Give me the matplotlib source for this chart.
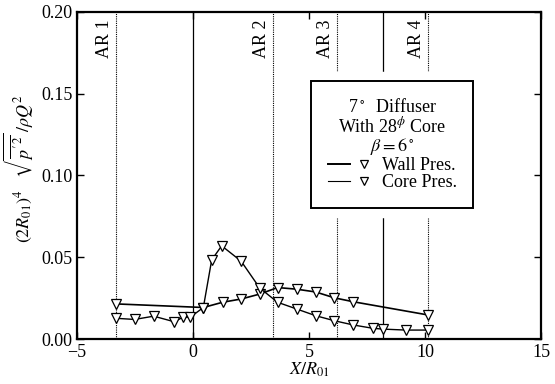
import numpy as np
import matplotlib
matplotlib.use("Agg")
import matplotlib.pyplot as plt
from matplotlib.lines import Line2D
from matplotlib.legend_handler import HandlerTuple
import matplotlib.patheffects as pe

plt.rcParams['font.family'] = 'serif'
plt.rcParams['font.serif'] = ['Liberation Serif', 'DejaVu Serif']
plt.rcParams['mathtext.fontset'] = 'stix'

# wall pressure fluctuation
wall_x = [-3.33, 0.44, 1.27, 2.07, 2.87, 3.64, 4.46, 5.28, 6.09, 6.91, 10.14]
wall_y = [0.0215, 0.0193, 0.0225, 0.0245, 0.0275, 0.0315, 0.0305, 0.0288,
          0.0252, 0.0228, 0.0147]

# core surface pressure fluctuation
core_x = [-3.33, -2.52, -1.70, -0.82, -0.44, -0.13, 0.44, 0.80, 1.23, 2.07,
          2.87, 3.64, 4.46, 5.28, 6.09, 6.91, 7.74, 8.17, 9.17, 10.14]
core_y = [0.0127, 0.0120, 0.0140, 0.0106, 0.0133, 0.0133, 0.0193, 0.0484,
          0.0570, 0.0476, 0.0312, 0.0225, 0.0184, 0.0143, 0.0112, 0.0086,
          0.0066, 0.0061, 0.0055, 0.0055]

# area-ratio stations and section boundaries
ar_x = [-3.33, 3.43, 6.18, 10.13]
ar_names = ["AR 1", "AR 2", "AR 3", "AR 4"]
edge_x = [0.0, 8.2]

fig = plt.figure(figsize=(5.55, 3.84), dpi=100)
ax = fig.add_axes([0.139, 0.117, 0.836, 0.852])

for x in ar_x:
    ax.axvline(x, color="black", lw=0.8, ls=(0, (1, 1)), zorder=1)
for x in edge_x:
    ax.axvline(x, color="black", lw=0.9, zorder=1)
for x, name in zip(ar_x, ar_names):
    ax.annotate(name, xy=(x, 0.978), xycoords=ax.get_xaxis_transform(),
                xytext=(-2, 0), textcoords="offset points",
                rotation=90, ha="right", va="top", fontsize=13)

mk = dict(marker="v", markersize=7.5, markerfacecolor="white",
          markeredgecolor="black", markeredgewidth=0.9)
ax.plot(wall_x, wall_y, color="black", lw=1.2, zorder=3, **mk)
ax.plot(core_x, core_y, color="black", lw=1.0, zorder=3, **mk)

mk_leg = dict(mk, markersize=6)
h_wall = (Line2D([], [], color="black", lw=1.4), Line2D([], [], ls="none", **mk_leg))
h_core = (Line2D([], [], color="black", lw=0.8), Line2D([], [], ls="none", **mk_leg))
leg = ax.legend([h_wall, h_core], ["Wall Pres.", "Core Pres."],
                handler_map={tuple: HandlerTuple(ndivide=None, pad=0.2)},
                title="7$^\\circ$  Diffuser\nWith 28$^\\phi$ Core\n$\\beta=6^\\circ$",
                title_fontsize=13, fontsize=13, handlelength=2.6,
                handletextpad=0.4, labelspacing=0.0, borderpad=0.95,
                loc="upper left", bbox_to_anchor=(0.504, 0.40, 0.35, 0.389),
                mode="expand", borderaxespad=0,
                fancybox=False, framealpha=1, edgecolor="black")
leg.get_frame().set_linewidth(1.4)
leg.get_frame().set_path_effects([pe.withStroke(linewidth=14, foreground="white")])
leg.get_title().set_multialignment("center")
leg.get_title().set_linespacing(1.0)

ax.set_xlim(-5, 15)
ax.set_ylim(0, 0.2)
ax.set_xticks([-5, 0, 5, 10, 15])
ax.set_yticks([0, 0.05, 0.10, 0.15, 0.20])
ax.yaxis.set_major_formatter(matplotlib.ticker.FormatStrFormatter("%.2f"))
ax.tick_params(direction="in", length=5, width=1, top=True, right=True,
               labelsize=13)
for s in ax.spines.values():
    s.set_linewidth(1.6)

ax.set_xlabel("$X/R_{01}$", fontsize=13, labelpad=0)
ax.set_ylabel("$(2R_{01})^4\\quad \\sqrt{\\overline{p^{\\prime\\, 2}}}\\,/\\rho Q^2$",
              fontsize=13)
ax.yaxis.set_label_coords(-0.088, 0.52)

fig.savefig("out.png", dpi=100)
